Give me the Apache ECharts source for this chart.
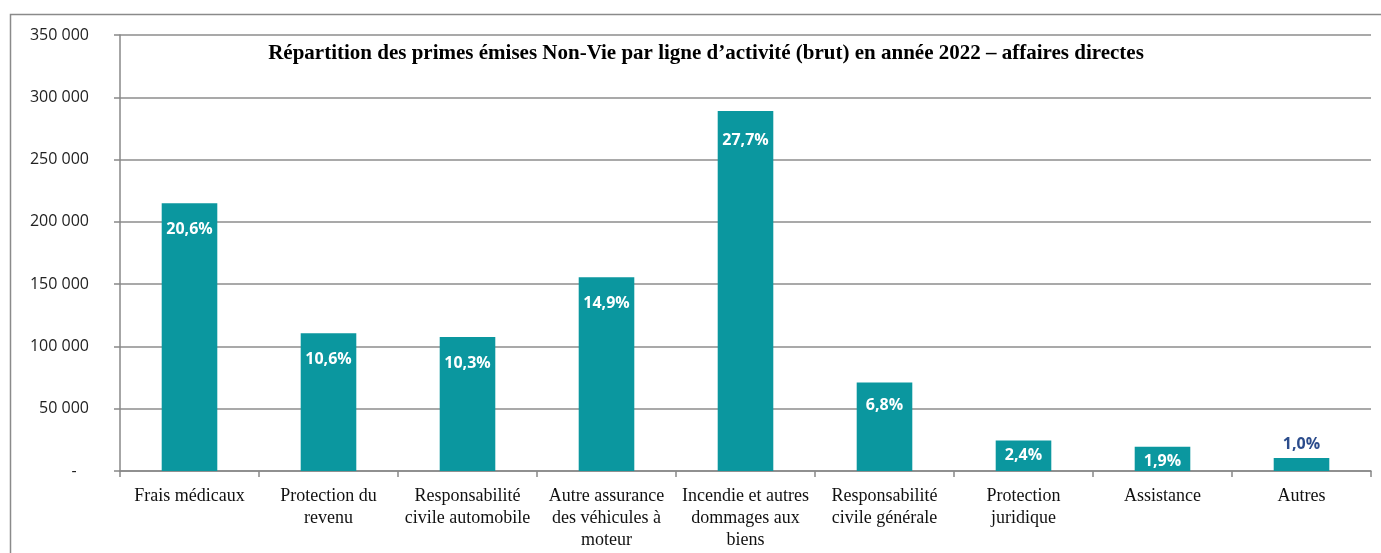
<!DOCTYPE html>
<html>
<head>
<meta charset="utf-8">
<script src="https://cdn.jsdelivr.net/npm/echarts@6/dist/echarts.min.js"></script>
<style>html,body{margin:0;padding:0;background:#fff}#c{width:1381px;height:553px}</style>
</head>
<body>
<div id="c"></div>
<script>
const titleText = "Répartition des primes émises Non-Vie par ligne d\u2019activité (brut) en année 2022 \u2013 affaires directes";
const categories = [
  "Frais médicaux",
  "Protection du\nrevenu",
  "Responsabilité\ncivile automobile",
  "Autre assurance\ndes véhicules à\nmoteur",
  "Incendie et autres\ndommages aux\nbiens",
  "Responsabilité\ncivile générale",
  "Protection\njuridique",
  "Assistance",
  "Autres"
];
const values = [215000, 110500, 107500, 155500, 289000, 71000, 24500, 19500, 10500];
const shares = ["20,6%", "10,6%", "10,3%", "14,9%", "27,7%", "6,8%", "2,4%", "1,9%", "1,0%"];

const chart = echarts.init(document.getElementById('c'), null, {renderer: 'canvas'});
const data = values.map((v, i) => {
  let label;
  if (i === values.length - 1) {
    label = {position: 'top', color: '#2B4C8C', distance: 5};
  } else if (v < 40000) {
    label = {position: 'insideTop', distance: 7};
  } else if (v < 90000) {
    label = {position: 'insideTop', distance: 15};
  } else if (v > 250000) {
    label = {position: 'insideTop', distance: 21};
  } else {
    label = {position: 'insideTop', distance: 18};
  }
  return {value: v, label: label};
});

chart.setOption({
  animation: false,
  graphic: [{
    type: 'rect',
    shape: {x: 10.5, y: 14.5, width: 1400, height: 600},
    style: {fill: 'none', stroke: '#8a8a8a', lineWidth: 1.5},
    z: -1
  }],
  title: {
    text: titleText,
    left: 701,
    top: 38,
    textAlign: 'center',
    textStyle: {fontFamily: 'Liberation Serif', fontWeight: 'bold', fontSize: 21, color: '#000'}
  },
  grid: {left: 120, right: 10, top: 35, bottom: 82, containLabel: false},
  xAxis: {
    type: 'category',
    data: categories,
    axisLine: {lineStyle: {color: '#888', width: 1.5}},
    axisTick: {show: true, length: 6, alignWithLabel: false, lineStyle: {color: '#888', width: 1.5}},
    axisLabel: {
      interval: 0,
      margin: 14,
      fontFamily: 'Liberation Serif',
      fontSize: 18,
      lineHeight: 22,
      color: '#111'
    }
  },
  yAxis: {
    type: 'value',
    min: 0,
    max: 350000,
    interval: 50000,
    axisLine: {show: true, lineStyle: {color: '#888', width: 1.5}},
    axisTick: {show: true, length: 6, lineStyle: {color: '#888', width: 1.5}},
    splitLine: {lineStyle: {color: '#8c8c8c', width: 1.5}},
    axisLabel: {
      margin: 31,
      fontFamily: 'Open Sans',
      fontSize: 16,
      color: '#222',
      formatter: function (v) {
        if (v === 0) return '-   ';
        return String(v).replace(/\B(?=(\d{3})+(?!\d))/g, ' ');
      }
    }
  },
  series: [{
    type: 'bar',
    data: data,
    barWidth: '40%',
    itemStyle: {color: '#0B979F'},
    label: {
      show: true,
      fontFamily: 'Open Sans',
      fontWeight: 'bold',
      fontSize: 16,
      color: '#fff',
      formatter: function (p) { return shares[p.dataIndex]; }
    }
  }]
});
</script>
</body>
</html>
